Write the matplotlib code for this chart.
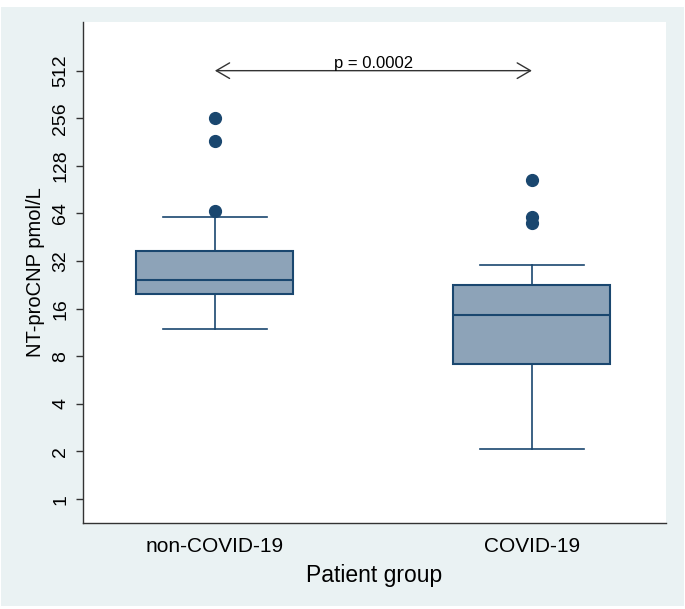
import matplotlib
matplotlib.use('Agg')
import matplotlib.pyplot as plt
from matplotlib.patches import Rectangle
from matplotlib.ticker import FixedLocator, NullLocator

# values (pmol/L)
groups = ['non-COVID-19', 'COVID-19']
medians = [24.3, 14.5]
q1s = [19.7, 7.2]
q3s = [37.2, 22.6]
whis_lo = [11.9, 2.08]
whis_hi = [61.1, 30.1]
outliers = [[66.4, 183, 256], [55.5, 61.1, 104]]
yticks = [1, 2, 4, 8, 16, 32, 64, 128, 256, 512]
p_text = 'p = 0.0002'

navy = '#1a476f'
fill = '#8da3b8'
bg = '#eaf2f3'

plt.rcParams['font.family'] = ['Liberation Sans', 'DejaVu Sans']

fig = plt.figure(figsize=(6.85, 6.09), dpi=100, facecolor='white')
fig.patches.append(Rectangle((1/685, 3/609), 683/685, 599/609, transform=fig.transFigure,
                             facecolor=bg, edgecolor='none', zorder=-10))
ax = fig.add_axes([83/685, 86/609, 583/685, 501/609])
ax.set_facecolor('white')

stats = []
for i in range(len(groups)):
    stats.append(dict(med=medians[i], q1=q1s[i], q3=q3s[i], whislo=whis_lo[i],
                      whishi=whis_hi[i], fliers=outliers[i], label=groups[i]))

ax.bxp(stats, positions=[1, 2], widths=0.495, patch_artist=True, showcaps=True,
       boxprops=dict(facecolor=fill, edgecolor=navy, linewidth=1.5),
       medianprops=dict(color=navy, linewidth=1.5),
       whiskerprops=dict(color=navy, linewidth=1.2),
       capprops=dict(color=navy, linewidth=1.2),
       capwidths=0.33,
       flierprops=dict(marker='o', markerfacecolor=navy, markeredgecolor=navy, markersize=8.5))

ax.set_yscale('log', base=2)
ax.set_ylim(0.706, 1040)
ax.set_xlim(0.584, 2.423)
ax.yaxis.set_major_locator(FixedLocator(yticks))
ax.yaxis.set_minor_locator(NullLocator())
ax.set_yticklabels([str(v) for v in yticks], rotation=90, va='center', fontsize=14)
ax.set_xticks([1, 2])
ax.set_xticklabels(groups, fontsize=15)
ax.tick_params(axis='x', length=0, pad=10)
ax.tick_params(axis='y', length=5, width=1, color='#333333', pad=5)

for s in ['top', 'right']:
    ax.spines[s].set_visible(False)
for s in ['left', 'bottom']:
    ax.spines[s].set_color('#333333')
    ax.spines[s].set_linewidth(1)

ax.set_ylabel('NT-proCNP pmol/L', fontsize=14.5, labelpad=5)
ax.set_xlabel('Patient group', fontsize=16.5, labelpad=6)

ax.annotate('', xy=(2, 512), xytext=(1, 512),
            arrowprops=dict(arrowstyle='<->,head_length=0.6,head_width=0.35',
                            color='#333333', lw=1, mutation_scale=16,
                            shrinkA=0, shrinkB=0))
ax.annotate(p_text, xy=(1.5, 512), xytext=(0, 2), textcoords='offset points',
            ha='center', va='baseline', fontsize=12)

fig.savefig('out.png', dpi=100, facecolor=fig.get_facecolor())
